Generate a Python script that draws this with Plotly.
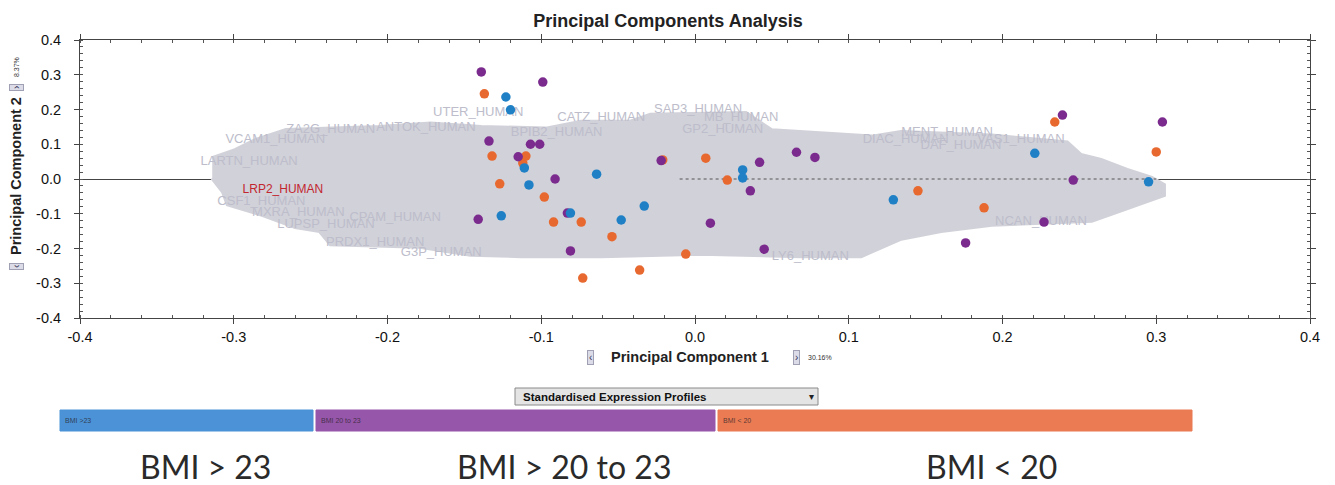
import plotly.graph_objects as go

# ---------------- data ----------------
blue_pc1 = [-0.123, -0.120, -0.064, -0.111, -0.108, 0.031, 0.031, -0.126, -0.081, -0.048, -0.033, 0.221, 0.295, 0.129]
blue_pc2 = [0.236, 0.199, 0.014, 0.032, -0.017, 0.026, 0.003, -0.106, -0.098, -0.118, -0.078, 0.074, -0.008, -0.060]

purple_pc1 = [-0.139, -0.099, -0.134, -0.107, -0.101, -0.115, -0.091, -0.022, 0.042, 0.066, 0.078, 0.036,
              -0.141, -0.083, -0.081, 0.010, 0.045, 0.239, 0.304, 0.246, 0.176, 0.227]
purple_pc2 = [0.308, 0.279, 0.109, 0.100, 0.100, 0.064, 0.000, 0.053, 0.048, 0.077, 0.062, -0.034,
              -0.116, -0.098, -0.207, -0.127, -0.202, 0.184, 0.164, -0.003, -0.184, -0.124]

orange_pc1 = [-0.137, -0.132, -0.110, -0.112, -0.127, -0.098, -0.021, 0.007, 0.021, -0.092, -0.074, -0.054,
              -0.006, -0.036, -0.073, 0.234, 0.300, 0.145, 0.188]
orange_pc2 = [0.245, 0.066, 0.066, 0.046, -0.014, -0.052, 0.055, 0.060, -0.003, -0.124, -0.124, -0.166,
              -0.216, -0.262, -0.285, 0.164, 0.078, -0.034, -0.083]

# envelope of the dense cloud of protein loading labels
cloud_pc1 = [-0.314, -0.299, -0.286, -0.266, -0.205, -0.172, -0.139, -0.097, -0.074, -0.042, -0.029, 0.033,
             0.050, 0.115, 0.134, 0.193, 0.242, 0.251, 0.264, 0.281, 0.297, 0.305, 0.305, 0.291, 0.278,
             0.258, 0.193, 0.160, 0.134, 0.108, 0.069, 0.004, -0.061, -0.113, -0.146, -0.179, -0.237,
             -0.244, -0.260, -0.281, -0.304, -0.307, -0.314]
cloud_pc2 = [0.060, 0.083, 0.112, 0.141, 0.150, 0.160, 0.150, 0.145, 0.165, 0.165, 0.185, 0.190,
             0.140, 0.122, 0.135, 0.125, 0.105, 0.069, 0.055, 0.026, 0.003, -0.017, -0.046, -0.069, -0.089,
             -0.120, -0.132, -0.150, -0.172, -0.222, -0.222, -0.215, -0.222, -0.222, -0.218, -0.195, -0.188,
             -0.150, -0.138, -0.104, -0.073, -0.037, 0.003]

label_names = ["UTER_HUMAN", "ZA2G_HUMAN", "ANTOK_HUMAN", "CATZ_HUMAN", "BPIB2_HUMAN", "SAP3_HUMAN",
               "MB_HUMAN", "GP2_HUMAN", "MENT_HUMAN", "DIAC_HUMAN", "DAF_HUMAN", "VAS1_HUMAN",
               "NCAN_HUMAN", "PRDX1_HUMAN", "G3P_HUMAN", "LUPSP_HUMAN", "VCAM1_HUMAN", "LARTN_HUMAN",
               "CSF1_HUMAN", "MXRA_HUMAN", "CPAM_HUMAN", "LY6_HUMAN"]
label_pc1 = [-0.141, -0.237, -0.175, -0.061, -0.090, 0.002, 0.030, 0.018, 0.164, 0.137, 0.173, 0.212,
             0.225, -0.208, -0.165, -0.240, -0.273, -0.290, -0.282, -0.258, -0.195, 0.075]
label_pc2 = [0.190, 0.141, 0.147, 0.176, 0.132, 0.199, 0.176, 0.141, 0.132, 0.112, 0.095, 0.112,
             -0.124, -0.184, -0.213, -0.132, 0.112, 0.050, -0.065, -0.098, -0.112, -0.225]

highlight_name = "LRP2_HUMAN"
highlight_pc1 = -0.268
highlight_pc2 = -0.032

x_ticks = [-0.4, -0.3, -0.2, -0.1, 0.0, 0.1, 0.2, 0.3, 0.4]
y_ticks = [-0.4, -0.3, -0.2, -0.1, 0.0, 0.1, 0.2, 0.3, 0.4]

pc1_var = "30.16%"
pc2_var = "8.37%"

group_bar_labels = ["BMI >23", "BMI 20 to 23", "BMI < 20"]
group_big_labels = ["BMI > 23", "BMI > 20 to 23", "BMI < 20"]
group_point_colors = ["#1f80c6", "#7b2b8e", "#e8692f"]
group_bar_colors = ["#4b92d6", "#9656aa", "#ea7b53"]

# ---------------- figure ----------------
FONT = "Liberation Sans, Arial, sans-serif"
fig = go.Figure()

# dense label cloud
fig.add_trace(go.Scatter(x=cloud_pc1, y=cloud_pc2, mode="lines", fill="toself",
                         fillcolor="#d1d1d9", line=dict(color="#d1d1d9", width=4),
                         hoverinfo="skip", showlegend=False))
fig.add_trace(go.Scatter(x=label_pc1, y=label_pc2, mode="text", text=label_names,
                         textfont=dict(family=FONT, size=13, color="#bdbdcb"),
                         hoverinfo="skip", showlegend=False))
# visible part of zero line over the cloud
fig.add_trace(go.Scatter(x=[-0.01, 0.30], y=[0, 0], mode="lines",
                         line=dict(color="#555555", width=1, dash="dot"),
                         hoverinfo="skip", showlegend=False))
fig.add_trace(go.Scatter(x=[highlight_pc1], y=[highlight_pc2], mode="text", text=[highlight_name],
                         textfont=dict(family=FONT, size=12, color="#c2262e"),
                         hoverinfo="skip", showlegend=False))

# samples
fig.add_trace(go.Scatter(x=orange_pc1, y=orange_pc2, mode="markers", name=group_bar_labels[2],
                         marker=dict(color=group_point_colors[2], size=9.5), showlegend=False))
fig.add_trace(go.Scatter(x=purple_pc1, y=purple_pc2, mode="markers", name=group_bar_labels[1],
                         marker=dict(color=group_point_colors[1], size=9.5), showlegend=False))
fig.add_trace(go.Scatter(x=blue_pc1, y=blue_pc2, mode="markers", name=group_bar_labels[0],
                         marker=dict(color=group_point_colors[0], size=9.5), showlegend=False))

axis_common = dict(showgrid=False, showline=True, linecolor="#444444", linewidth=1, mirror="ticks",
                   ticks="outside", ticklen=5, tickcolor="#444444",
                   tickfont=dict(family=FONT, size=14.5, color="#111111"),
                   minor=dict(ticks="inside", ticklen=3, dtick=0.02, tickcolor="#555555"))

fig.update_xaxes(range=[-0.4, 0.4], tickvals=x_ticks, ticktext=[f"{v:.1f}" for v in x_ticks],
                 zeroline=False, ticklabelstandoff=1, **axis_common)
fig.update_yaxes(range=[-0.4, 0.4], tickvals=y_ticks, ticktext=[f"{v:.1f}" for v in y_ticks],
                 zeroline=True, zerolinecolor="#444444", zerolinewidth=1, ticklabelstandoff=10,
                 **axis_common)

# the page body has an 8px margin, so the figure is drawn 8px in from the window corner
OFF = 8
W, H = 1335 - OFF, 485 - OFF
L, R, T, B = 80 - OFF, 25, 40 - OFF, 167
pw, ph = W - L - R, H - T - B


def px(xpix):
    """window x pixel -> paper coordinate"""
    return (xpix - OFF - L) / pw


def py(ypix):
    """window y pixel -> paper coordinate"""
    return (H - B - (ypix - OFF)) / ph


ann = []
# axis titles
ann.append(dict(text="<b>Principal Component 1</b>", x=px(690), y=py(357), xanchor="center", yanchor="middle",
                xref="paper", yref="paper", showarrow=False, font=dict(family=FONT, size=14.5, color="#222222")))
ann.append(dict(text="<b>Principal Component 2</b>", x=px(16), y=py(176), xanchor="center", yanchor="middle",
                xref="paper", yref="paper", showarrow=False, textangle=-90,
                font=dict(family=FONT, size=14.5, color="#222222")))
# small navigation icons and variance text
icon = dict(xref="paper", yref="paper", showarrow=False, xanchor="center", yanchor="middle",
            bgcolor="#dcdce8", bordercolor="#a0a0b4", borderwidth=1, borderpad=1,
            font=dict(family=FONT, size=10, color="#333355"))
ann.append(dict(text="‹", x=px(590), y=py(357), **icon))
ann.append(dict(text="›", x=px(796), y=py(357), **icon))
ann.append(dict(text=pc1_var, x=px(806), y=py(357), xanchor="left", yanchor="middle", xref="paper",
                yref="paper", showarrow=False, font=dict(family=FONT, size=7, color="#333333")))
ann.append(dict(text="‹", x=px(16), y=py(267), textangle=-90, **icon))
ann.append(dict(text="›", x=px(16), y=py(88), textangle=-90, **icon))
ann.append(dict(text=pc2_var, x=px(16), y=py(79), xanchor="center", yanchor="bottom", textangle=-90,
                xref="paper", yref="paper", showarrow=False, font=dict(family=FONT, size=7, color="#333333")))

shapes = []
# dropdown
shapes.append(dict(type="rect", xref="paper", yref="paper", x0=px(515), x1=px(818), y0=py(405), y1=py(388),
                   fillcolor="#e4e4e4", line=dict(color="#8a8a8a", width=1)))
ann.append(dict(text="<b>Standardised Expression Profiles</b>", x=px(521), y=py(396.5), xanchor="left",
                yanchor="middle", xref="paper", yref="paper", showarrow=False,
                font=dict(family=FONT, size=11.5, color="#111111")))
ann.append(dict(text="▾", x=px(811), y=py(396.5), xanchor="center", yanchor="middle", xref="paper",
                yref="paper", showarrow=False, font=dict(family=FONT, size=10, color="#222222")))

# group colour strip
bar_x0 = [60, 316, 718]
bar_x1 = [313, 715, 1192]
big_cx = [205, 564, 991]
for i in range(3):
    shapes.append(dict(type="rect", xref="paper", yref="paper", x0=px(bar_x0[i]), x1=px(bar_x1[i]),
                       y0=py(431), y1=py(410), fillcolor=group_bar_colors[i],
                       line=dict(color=group_bar_colors[i], width=1)))
    ann.append(dict(text=group_bar_labels[i], x=px(bar_x0[i] + 3), y=py(420.5), xanchor="left",
                    yanchor="middle", xref="paper", yref="paper", showarrow=False,
                    font=dict(family=FONT, size=7, color="rgba(40,30,40,0.75)")))
    ann.append(dict(text=group_big_labels[i], x=px(big_cx[i]), y=py(466), xanchor="center", yanchor="middle",
                    xref="paper", yref="paper", showarrow=False, borderpad=0,
                    font=dict(family="Lato, Open Sans, sans-serif", size=32, color="#2a2a2a")))

fig.update_layout(
    width=W, height=H,
    margin=dict(l=L, r=R, t=T, b=B),
    paper_bgcolor="white", plot_bgcolor="white",
    title=dict(text="<b>Principal Components Analysis</b>", x=(668 - OFF) / W, xanchor="center",
               y=1 - (21 - OFF) / H, yanchor="middle", yref="container",
               font=dict(family=FONT, size=18, color="#222222")),
    annotations=ann, shapes=shapes,
    showlegend=False,
)

fig.write_html("out.html")
